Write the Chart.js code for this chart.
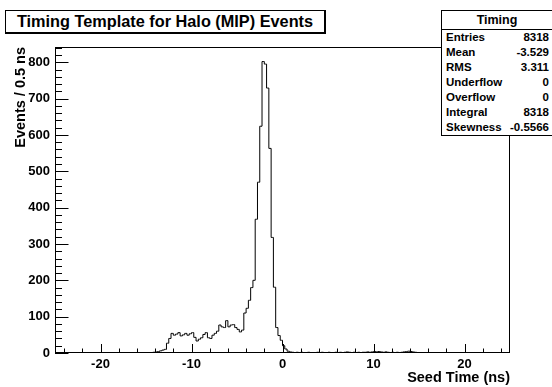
<!DOCTYPE html>
<html>
<head>
<meta charset="utf-8">
<script src="https://cdn.jsdelivr.net/npm/chart.js@4/dist/chart.umd.min.js"></script>
<style>
  body { margin: 0; background: #fff; }
  #wrap { position: relative; width: 552px; height: 387px; overflow: hidden; }
  #title {
    position: absolute; left: 5px; top: 10px; width: 318px; height: 21px;
    border: 1px solid #000; border-right-width: 2px; border-bottom-width: 2px;
    background: #fff; font: bold 16.3px "Liberation Sans", Arial, sans-serif;
    text-align: center; line-height: 21px; color: #000;
  }
  #stats {
    position: absolute; left: 441px; top: 10px; width: 110px;
    border: 1px solid #000; background: #fff; color: #000;
    font: bold 11.5px "Liberation Sans", Arial, sans-serif;
  }
  #stats .hdr { text-align: center; font-size: 12.5px; height: 18px; line-height: 18px; border-bottom: 1px solid #000; }
  #stats .row { height: 15px; line-height: 15px; padding: 0 3px 0 4px; display: flex; justify-content: space-between; }
</style>
</head>
<body>
<div id="wrap">
  <canvas id="chart" width="552" height="387"></canvas>
  <div id="title">Timing Template for Halo (MIP) Events</div>
  <div id="stats"><div class="hdr">Timing</div></div>
</div>
<script>
// histogram: 200 bins of 0.25 ns from -25 to 25
var xMin = -25, xMax = 25, binWidth = 0.25;
var counts = [
  0,0,0,0,0,0,0,0,0,0, 0,0,0,0,0,0,0,0,0,0,
  0,0,0,0,0,0,0,0,0,0, 0,0,0,0,0,0,0,0,0,0,
  0,1,1,2,3,4,6,8,10,27, 40,54,49,52,56,47,50,54,49,53,
  56,43,33,38,42,51,56,42,40,49, 54,60,77,72,70,89,72,77,78,70,
  65,58,63,110,123,145,180,200,368,470, 624,802,795,729,563,318,181,70,48,35,
  20,11,5,3,2,1,2,1,2,1, 1,2,1,0,1,2,1,2,1,1,
  2,1,1,2,1,2,1,2,3,2, 1,2,1,2,1,2,2,3,2,3,
  4,3,4,3,2,3,2,1,2,1, 2,1,2,3,4,5,4,3,2,1,
  1,0,1,0,0,0,0,0,0,0, 0,0,0,0,0,0,0,0,0,0,
  0,0,0,0,0,0,0,0,0,0, 0,0,0,0,0,0,0,0,0,0
];
var yMax = 842;

var xTicks = [-20, -10, 0, 10, 20];
var yTicks = [0, 100, 200, 300, 400, 500, 600, 700, 800];
var xMinorStep = 2, yMinorStep = 20;

var statNames  = ['Entries', 'Mean', 'RMS', 'Underflow', 'Overflow', 'Integral', 'Skewness'];
var statValues = ['8318', '-3.529', '3.311', '0', '0', '8318', '-0.5566'];

var font = '"Liberation Sans", Arial, sans-serif';

// stats box rows
var stats = document.getElementById('stats');
for (var i = 0; i < statNames.length; i++) {
  var row = document.createElement('div');
  row.className = 'row';
  row.innerHTML = '<span>' + statNames[i] + '</span><span>' + statValues[i] + '</span>';
  stats.appendChild(row);
}

// step points at bin centres, plus the two outer edges
var points = [{ x: xMin, y: counts[0] }];
for (var i = 0; i < counts.length; i++) {
  points.push({ x: xMin + (i + 0.5) * binWidth, y: counts[i] });
}
points.push({ x: xMax, y: counts[counts.length - 1] });

// ROOT-like frame with ticks pointing inwards
var rootFrame = {
  id: 'rootFrame',
  afterDatasetsDraw: function(chart) {
    var ctx = chart.ctx, a = chart.chartArea, sx = chart.scales.x, sy = chart.scales.y;
    ctx.save();
    ctx.strokeStyle = '#000';
    ctx.lineWidth = 1;
    ctx.strokeRect(a.left + 0.5, a.top + 0.5, a.right - a.left - 1, a.bottom - a.top - 1);
    ctx.beginPath();
    for (var v = xMin + 1; v < xMax; v += xMinorStep) {
      var px = Math.round(sx.getPixelForValue(v)) + 0.5;
      var len = xTicks.indexOf(v) >= 0 ? 9 : 4.5;
      ctx.moveTo(px, a.bottom);
      ctx.lineTo(px, a.bottom - len);
    }
    for (var w = 0; w < yMax; w += yMinorStep) {
      var py = Math.round(sy.getPixelForValue(w)) + 0.5;
      var l2 = yTicks.indexOf(w) >= 0 ? 13.5 : 7;
      ctx.moveTo(a.left, py);
      ctx.lineTo(a.left + l2, py);
    }
    ctx.stroke();
    ctx.restore();
  }
};

new Chart(document.getElementById('chart'), {
  type: 'line',
  data: {
    datasets: [{
      data: points,
      borderColor: '#000',
      borderWidth: 1,
      pointRadius: 0,
      stepped: 'middle',
      fill: false
    }]
  },
  options: {
    responsive: false,
    animation: false,
    layout: { padding: { left: 0, right: 42, top: 47, bottom: 0 } },
    plugins: { legend: { display: false }, tooltip: { enabled: false } },
    scales: {
      x: {
        type: 'linear', min: xMin, max: xMax,
        grid: { display: false, drawTicks: false }, border: { display: false },
        afterBuildTicks: function(s) { s.ticks = xTicks.map(function(v) { return { value: v }; }); },
        afterFit: function(s) { s.height = 34; },
        ticks: {
          color: '#000', padding: 4, maxRotation: 0, autoSkip: false,
          font: { family: font, size: 13, weight: 'bold' },
          callback: function(v) { return String(v); }
        },
        title: {
          display: true, text: 'Seed Time (ns)', align: 'end', color: '#000',
          font: { family: font, size: 14.5, weight: 'bold' },
          padding: { top: 0, bottom: 0 }
        }
      },
      y: {
        type: 'linear', min: 0, max: yMax,
        grid: { display: false, drawTicks: false }, border: { display: false },
        afterBuildTicks: function(s) { s.ticks = yTicks.map(function(v) { return { value: v }; }); },
        afterFit: function(s) { s.width = 55; },
        ticks: {
          color: '#000', padding: 5, autoSkip: false,
          font: { family: font, size: 13, weight: 'bold' },
          callback: function(v) { return String(v); }
        },
        title: {
          display: true, text: 'Events / 0.5 ns', align: 'end', color: '#000',
          font: { family: font, size: 14.5, weight: 'bold' },
          padding: { top: 12, bottom: 0 }
        }
      }
    }
  },
  plugins: [rootFrame]
});
</script>
</body>
</html>
